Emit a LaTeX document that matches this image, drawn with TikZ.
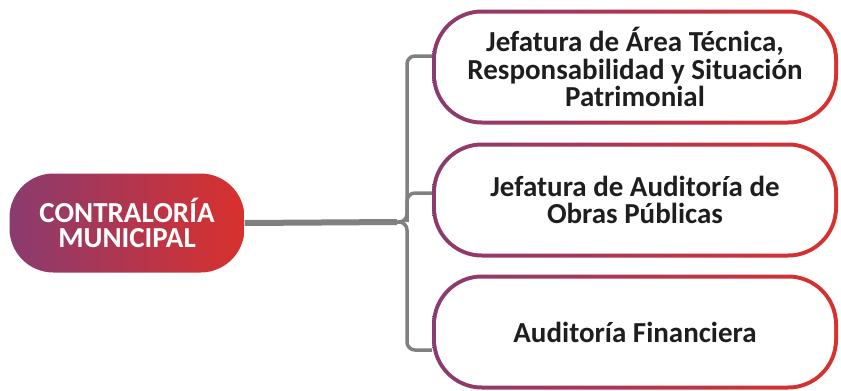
\documentclass[tikz,border=0pt]{standalone}
\usepackage{fontspec}
\setmainfont{Carlito}
\definecolor{pillpurple}{HTML}{8A3B70}
\definecolor{pillred}{HTML}{D9312D}
\definecolor{linegray}{HTML}{808080}
\definecolor{boxtext}{HTML}{1E1E1E}
\pgfdeclarelayer{background}
\pgfsetlayers{background,main}
\begin{document}
\begin{tikzpicture}[x=1pt,y=-1pt,
    head/.style={rectangle, rounded corners=44pt, minimum width=235pt, minimum height=99pt,
      left color=pillpurple, right color=pillred, text=white, align=center,
      font=\bfseries\fontsize{29}{25}\selectfont},
    unit/.style={rectangle, rounded corners=50pt, minimum width=406pt, minimum height=115pt,
      left color=pillpurple, right color=pillred, text=boxtext, align=center,
      font=\bfseries\fontsize{29}{27.5}\selectfont,
      path picture={\fill[white, rounded corners=46pt]
        ([shift={(4pt,4pt)}]path picture bounding box.south west) rectangle
        ([shift={(-4pt,-4pt)}]path picture bounding box.north east);}},
    link/.style={draw=linegray, line width=3.5pt, rounded corners=8pt},
    trunk/.style={draw=linegray, line width=6pt}]
  \useasboundingbox (0,0) rectangle (841,391);
  \path
    (127,223) node[head] (0){CONTRALORÍA\\MUNICIPAL}
    (635,67) node[unit] (1){Jefatura de Área Técnica,\\Responsabilidad y Situación\\Patrimonial}
    (635,200) node[unit] (2){Jefatura de Auditoría de\\Obras Públicas}
    (635,332) node[unit] (3){Auditoría Financiera};
  \coordinate (j) at (407,222);
  \begin{pgfonlayer}{background}
    \draw[trunk] (0.east) -- ([xshift=-10pt]j);
    \draw[link] ([xshift=-14pt]j) -| ([yshift=11pt]j |- 1.west) -- ([yshift=11pt]1.west);
    \draw[link] (j) |- ([yshift=7pt]2.west);
    \draw[link] ([xshift=-14pt]j) -| ([yshift=-18pt]j |- 3.west) -- ([yshift=-18pt]3.west);
  \end{pgfonlayer}
\end{tikzpicture}
\end{document}
